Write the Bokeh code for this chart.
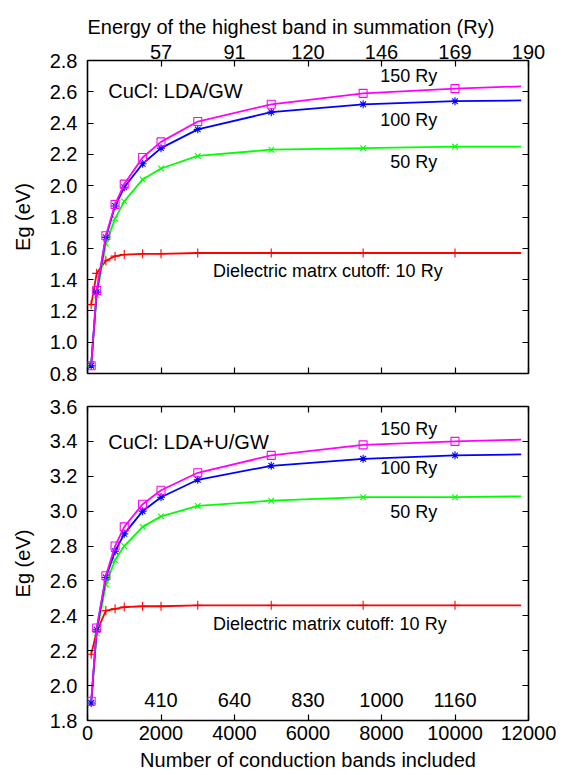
from bokeh.plotting import figure
from bokeh.models import (LinearAxis, FixedTicker, CustomJSTickFormatter,
                          PrintfTickFormatter, Range1d)
from bokeh.layouts import column
from bokeh.embed import file_html
from bokeh.resources import INLINE
from bokeh.core.properties import value

FONT = "Liberation Sans"

# ---------------- data ----------------
n_bands = [100, 250, 500, 750, 1000, 1500, 2000, 3000, 5000, 7500, 10000]
curve_end_x = 11800

# CuCl LDA/GW (top panel), band gap in eV for each dielectric cutoff
lda_10ry = [1.24, 1.44, 1.52, 1.55, 1.56, 1.565, 1.565, 1.57, 1.57, 1.57, 1.57]
lda_50ry = [0.86, 1.30, 1.63, 1.79, 1.90, 2.04, 2.11, 2.19, 2.23, 2.24, 2.25]
lda_100ry = [0.85, 1.32, 1.67, 1.87, 1.99, 2.14, 2.24, 2.36, 2.47, 2.52, 2.54]
lda_150ry = [0.85, 1.33, 1.68, 1.88, 2.01, 2.18, 2.28, 2.41, 2.52, 2.59, 2.62]
lda_curve_end = [1.57, 2.25, 2.545, 2.635]   # 10, 50, 100, 150 Ry at right edge

# CuCl LDA+U/GW (bottom panel)
ldau_10ry = [2.18, 2.31, 2.43, 2.44, 2.45, 2.455, 2.455, 2.46, 2.46, 2.46, 2.46]
ldau_50ry = [1.90, 2.30, 2.58, 2.72, 2.80, 2.91, 2.97, 3.03, 3.06, 3.08, 3.08]
ldau_100ry = [1.90, 2.32, 2.62, 2.77, 2.87, 3.00, 3.08, 3.18, 3.26, 3.30, 3.32]
ldau_150ry = [1.91, 2.33, 2.63, 2.80, 2.91, 3.04, 3.12, 3.22, 3.32, 3.38, 3.40]
ldau_curve_end = [2.46, 3.085, 3.325, 3.41]

# axis ticks / labels
x_ticks = [0, 2000, 4000, 6000, 8000, 10000, 12000]
energy_ticks = [2000, 4000, 6000, 8000, 10000, 12000]
energy_labels_top = ["57", "91", "120", "146", "169", "190"]
energy_ticks_inner = [2000, 4000, 6000, 8000, 10000]
energy_labels_inner = ["410", "640", "830", "1000", "1160"]
y_ticks_top = [0.8, 1.0, 1.2, 1.4, 1.6, 1.8, 2.0, 2.2, 2.4, 2.6, 2.8]
y_ticks_bottom = [1.8, 2.0, 2.2, 2.4, 2.6, 2.8, 3.0, 3.2, 3.4, 3.6]

COLORS = {"10": "#ff0000", "50": "#00ff00", "100": "#0000ff", "150": "#ff00ff"}
BLANK = CustomJSTickFormatter(code="return ''")


def style_axis(ax, blank=False):
    ax.major_tick_in = 6
    ax.major_tick_out = 0
    ax.minor_tick_line_color = None
    ax.axis_line_color = None
    ax.major_tick_line_color = "black"
    ax.major_tick_line_width = 1.2
    ax.major_label_text_font = FONT
    ax.major_label_text_font_size = "20px"
    ax.major_label_text_color = "black"
    ax.axis_label_text_font = FONT
    ax.axis_label_text_font_size = "20px"
    ax.axis_label_text_font_style = "normal"
    ax.axis_label_text_color = "black"
    if blank:
        ax.formatter = BLANK
        ax.major_label_text_font_size = "0px"
        ax.major_label_standoff = 0


def make_panel(y0, y1, yticks, frame_h, top_border, bottom_border):
    p = figure(frame_width=441, frame_height=frame_h,
               x_range=Range1d(0, 12000), y_range=Range1d(y0, y1),
               output_backend="svg", toolbar_location=None,
               x_axis_location=None, y_axis_location=None,
               min_border_left=87, min_border_right=40,
               min_border_top=top_border, min_border_bottom=bottom_border)
    p.xgrid.visible = False
    p.ygrid.visible = False
    p.outline_line_color = "black"
    p.outline_line_width = 1.6
    p.background_fill_color = "white"
    p.border_fill_color = "white"

    left = LinearAxis(ticker=FixedTicker(ticks=yticks),
                      formatter=PrintfTickFormatter(format="%.1f"),
                      axis_label="Eg (eV)")
    style_axis(left)
    left.major_label_standoff = 10
    left.axis_label_standoff = 13
    p.add_layout(left, "left")

    right = LinearAxis(ticker=FixedTicker(ticks=yticks))
    style_axis(right, blank=True)
    p.add_layout(right, "right")
    return p


def draw_series(p, ys_list, ends):
    keys = ["10", "50", "100", "150"]
    markers = ["cross", "x", "asterisk", "square"]
    sizes = [9, 8, 8, 8]
    for k, ys, end, m, s in zip(keys, ys_list, ends, markers, sizes):
        c = COLORS[k]
        p.line(n_bands + [curve_end_x], ys + [end], line_color=c, line_width=1.8)
        p.scatter(n_bands, ys, marker=m, size=s, line_color=c,
                  fill_color=None, line_width=1.1)


def add_text(p, x, y, txt, align="left", size="18px"):
    p.text(x=[x], y=[y], text=[txt], text_font=value(FONT),
           text_font_size=size, text_align=align, text_baseline="middle",
           text_color="black")


# ---------------- top panel ----------------
p1 = make_panel(0.8, 2.8, y_ticks_top, 313, 60, 17)
p1.title.text = "Energy of the highest band in summation (Ry)"
p1.title.align = "left"
p1.title.vertical_align = "top"
p1.title.text_font = FONT
p1.title.text_font_size = "20px"
p1.title.text_font_style = "normal"
p1.title.text_color = "black"
p1.title.standoff = 4

top_axis = LinearAxis(ticker=FixedTicker(ticks=energy_ticks),
                      major_label_overrides=dict(zip(energy_ticks, energy_labels_top)))
style_axis(top_axis)
top_axis.major_label_standoff = 2
p1.add_layout(top_axis, "above")

bot_axis1 = LinearAxis(ticker=FixedTicker(ticks=x_ticks))
style_axis(bot_axis1, blank=True)
p1.add_layout(bot_axis1, "below")

draw_series(p1, [lda_10ry, lda_50ry, lda_100ry, lda_150ry], lda_curve_end)
add_text(p1, 563, 2.608, "CuCl: LDA/GW", size="20px")
add_text(p1, 9515, 2.704, "150 Ry", align="right")
add_text(p1, 9515, 2.423, "100 Ry", align="right")
add_text(p1, 9515, 2.150, "50 Ry", align="right")
add_text(p1, 3412, 1.454, "Dielectric matrx cutoff: 10 Ry")

# ---------------- bottom panel ----------------
p2 = make_panel(1.8, 3.6, y_ticks_bottom, 314, 16, 40)

top_axis2 = LinearAxis(ticker=FixedTicker(ticks=x_ticks))
style_axis(top_axis2, blank=True)
p2.add_layout(top_axis2, "above")

bot_axis2 = LinearAxis(ticker=FixedTicker(ticks=x_ticks),
                       formatter=PrintfTickFormatter(format="%d"),
                       axis_label="Number of conduction bands included")
style_axis(bot_axis2)
bot_axis2.major_label_standoff = 5
bot_axis2.axis_label_standoff = 6
p2.add_layout(bot_axis2, "below")

draw_series(p2, [ldau_10ry, ldau_50ry, ldau_100ry, ldau_150ry], ldau_curve_end)
add_text(p2, 563, 3.399, "CuCl: LDA+U/GW", size="20px")
add_text(p2, 9515, 3.472, "150 Ry", align="right")
add_text(p2, 9515, 3.246, "100 Ry", align="right")
add_text(p2, 9515, 2.994, "50 Ry", align="right")
add_text(p2, 3412, 2.354, "Dielectric matrix cutoff: 10 Ry")
p2.text(x=energy_ticks_inner, y=[1.915] * len(energy_ticks_inner),
        text=energy_labels_inner, text_font=value(FONT), text_font_size="20px",
        text_align="center", text_baseline="middle", text_color="black")

layout = column(p1, p2, spacing=0)
open("out.html", "w").write(file_html(layout, INLINE))
